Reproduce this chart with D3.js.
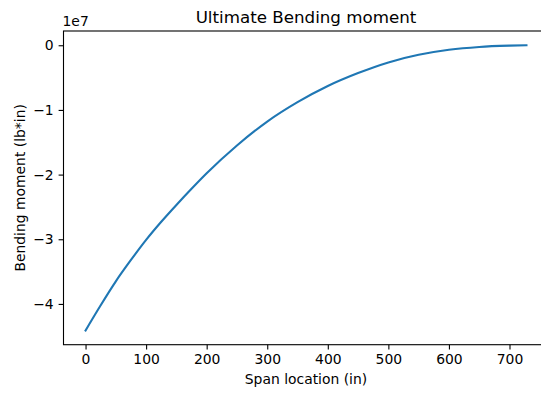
<!DOCTYPE html>
<html>
<head>
<meta charset="utf-8">
<script src="https://cdn.jsdelivr.net/npm/d3@7"></script>
<style>
  html, body { margin: 0; padding: 0; background: #fff; }
  svg { display: block; font-family: "DejaVu Sans", sans-serif; }
</style>
</head>
<body>
<svg id="chart" width="541" height="394"></svg>
<script>
// Ultimate bending moment along the span (moment in units of 1e7 lb*in)
const spanLocation = [0, 25, 50, 75, 100, 125, 150, 175, 200, 250, 300, 350, 400, 450, 500, 550, 600, 650, 700, 728];
const bendingMoment = [-4.41, -4.02, -3.65, -3.32, -3.01, -2.73, -2.47, -2.22, -1.98, -1.55, -1.18, -0.88, -0.63, -0.43, -0.265, -0.148, -0.07, -0.026, -0.006, 0];
const xTicks = [0, 100, 200, 300, 400, 500, 600, 700];
const yTicks = [0, -1, -2, -3, -4];

const svg = d3.select("#chart");
const plot = { left: 63.5, right: 548.5, top: 31, bottom: 344.7 };

// 5% padding around the data extent on both axes
const xExt = d3.extent(spanLocation), yExt = d3.extent(bendingMoment);
const xPad = (xExt[1] - xExt[0]) * 0.05, yPad = (yExt[1] - yExt[0]) * 0.05;
const x = d3.scaleLinear().domain([xExt[0] - xPad, xExt[1] + xPad]).range([plot.left, plot.right]);
const y = d3.scaleLinear().domain([yExt[0] - yPad, yExt[1] + yPad]).range([plot.bottom, plot.top]);

const fmtMinus = d => d3.format("d")(d).replace("-", "\u2212");

// x axis
const xAxis = svg.append("g")
  .attr("transform", `translate(0,${plot.bottom})`)
  .call(d3.axisBottom(x).tickValues(xTicks).tickFormat(fmtMinus).tickSize(4.9).tickPadding(4.9).tickSizeOuter(0));
// y axis
const yAxis = svg.append("g")
  .attr("transform", `translate(${plot.left},0)`)
  .call(d3.axisLeft(y).tickValues(yTicks).tickFormat(fmtMinus).tickSize(4.9).tickPadding(4.9).tickSizeOuter(0));

[xAxis, yAxis].forEach(g => {
  g.select(".domain").remove();
  g.selectAll(".tick line").attr("stroke", "#000").attr("stroke-width", 1.1);
  g.selectAll(".tick text").attr("fill", "#000").style("font-size", "13.9px").style("font-family", "DejaVu Sans");
});

// spines
svg.append("rect")
  .attr("x", plot.left).attr("y", plot.top)
  .attr("width", plot.right - plot.left).attr("height", plot.bottom - plot.top)
  .attr("fill", "none").attr("stroke", "#000").attr("stroke-width", 1.1);

// moment curve
const line = d3.line()
  .x((d, i) => x(spanLocation[i]))
  .y(d => y(d))
  .curve(d3.curveMonotoneX);
svg.append("path")
  .datum(bendingMoment)
  .attr("d", line)
  .attr("fill", "none")
  .attr("stroke", "#1f77b4")
  .attr("stroke-width", 2.1)
  .attr("stroke-linecap", "square");

// scale multiplier above the y axis
svg.append("text")
  .attr("x", plot.left - 1).attr("y", 26)
  .style("font-size", "13.9px")
  .text("1e7");

// title
svg.append("text")
  .attr("x", (plot.left + plot.right) / 2).attr("y", 22.5)
  .attr("text-anchor", "middle")
  .style("font-size", "16.7px")
  .text("Ultimate Bending moment");

// axis labels
svg.append("text")
  .attr("x", (plot.left + plot.right) / 2).attr("y", 384)
  .attr("text-anchor", "middle")
  .style("font-size", "13.9px")
  .text("Span location (in)");

svg.append("text")
  .attr("transform", `translate(25,${(plot.top + plot.bottom) / 2}) rotate(-90)`)
  .attr("text-anchor", "middle")
  .style("font-size", "13.9px")
  .text("Bending moment (lb*in)");
</script>
</body>
</html>
